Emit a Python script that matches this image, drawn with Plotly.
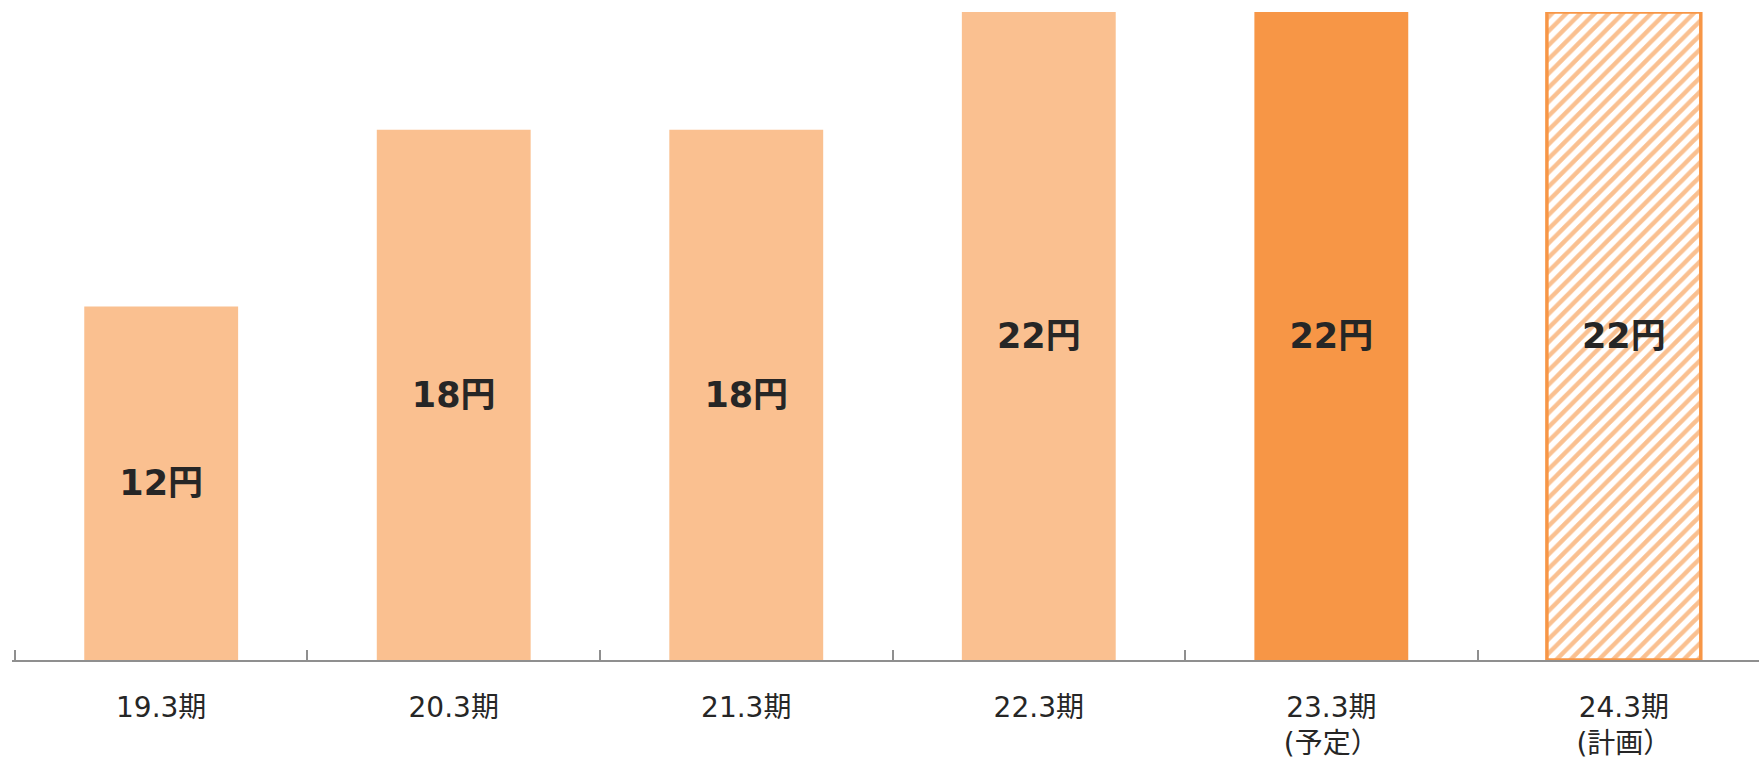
import plotly.graph_objects as go

# Dividend per share by fiscal year (yen)
periods = ["19.3期", "20.3期", "21.3期", "22.3期", "23.3期", "24.3期"]
period_notes = ["", "", "", "", "(予定）", "(計画）"]
dividends = [12, 18, 18, 22, 22, 22]
value_labels = ["12円", "18円", "18円", "22円", "22円", "22円"]

LIGHT = "#FAC090"
DARK = "#F79646"
AXIS = "#8F8F8F"
TEXT = "#262626"
FONT = "DejaVu Sans, Noto Sans CJK JP, sans-serif"

bar_colors = [LIGHT, LIGHT, LIGHT, LIGHT, DARK, LIGHT]
pattern_shapes = ["", "", "", "", "", "/"]
pattern_fg = [LIGHT, LIGHT, LIGHT, LIGHT, DARK, LIGHT]
pattern_bg = ["white"] * 6
outline_widths = [0, 0, 0, 0, 0, 3.5]

tick_text = [p if not n else f"{p}<br>{n}" for p, n in zip(periods, period_notes)]

fig = go.Figure(
    go.Bar(
        x=periods,
        y=dividends,
        text=value_labels,
        textposition="inside",
        insidetextanchor="middle",
        textangle=0,
        textfont=dict(family=FONT, size=35, color=TEXT, weight="bold"),
        width=0.526,
        marker=dict(
            color=bar_colors,
            line=dict(color=DARK, width=outline_widths),
            pattern=dict(
                shape=pattern_shapes,
                fillmode="replace",
                fgcolor=pattern_fg,
                bgcolor=pattern_bg,
                size=10,
                solidity=0.45,
            ),
        ),
        hoverinfo="skip",
    )
)

fig.update_layout(
    width=1759,
    height=761,
    margin=dict(l=12, r=0, t=12, b=101),
    paper_bgcolor="white",
    plot_bgcolor="white",
    showlegend=False,
)

fig.update_xaxes(
    type="category",
    range=[-0.51, 5.462],
    tickmode="array",
    tickvals=periods,
    ticktext=tick_text,
    tickson="boundaries",
    ticks="inside",
    ticklen=10,
    tickwidth=1.5,
    tickcolor=AXIS,
    showline=True,
    linecolor=AXIS,
    linewidth=2,
    showgrid=False,
    zeroline=False,
    ticklabelstandoff=21,
    tickfont=dict(family=FONT, size=28, color=TEXT),
)

fig.update_yaxes(
    range=[0, 22],
    visible=False,
    showgrid=False,
    zeroline=False,
)

fig.write_html("out.html")
